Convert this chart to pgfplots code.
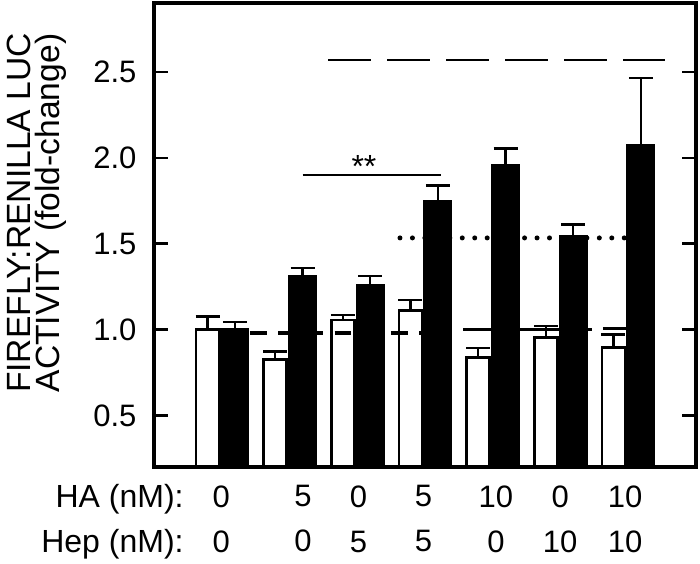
\documentclass[border=0pt]{standalone}
\usepackage{fontspec}
\setmainfont{Liberation Sans}
\usepackage{pgfplots}
\pgfplotsset{compat=1.18}

\begin{document}
\begin{tikzpicture}
\path[use as bounding box] (-77pt,-48pt) rectangle (273pt,233.5pt);
\begin{axis}[
  at={(0,0)}, anchor=south west,
  scale only axis, width=271pt, height=232pt,
  xmin=-0.994, xmax=7.018, ymin=0.2, ymax=2.9,
  axis on top,
  axis line style={line width=1.6pt},
  ytick={0.5,1.0,1.5,2.0,2.5},
  ytick pos=both, yticklabel pos=left,
  tick align=inside, major tick length=7pt,
  tick style={black, line width=1.1pt},
  yticklabel style={font=\fontsize{15.5}{18}\selectfont, inner sep=0pt, xshift=-8.6pt},
  /pgf/number format/fixed, /pgf/number format/fixed zerofill, /pgf/number format/precision=1,
  /pgf/number format/assume math mode=true,
  xtick={0,1.21,2.03,2.99,4.06,5.01,5.97},
  xticklabels={{0\\0},{5\\0},{0\\5},{5\\5},{10\\0},{0\\10},{10\\10}},
  xticklabel style={font=\fontsize{15.5}{22.5}\selectfont, align=center, inner sep=0pt, anchor=north, yshift=-9pt},
  xtick style={draw=none},
]
% dotted reference line (behind bars)
\addplot[line width=2.5pt, line cap=round, dash pattern=on 0pt off 6.23pt] coordinates {(2.642,1.533) (5.958,1.533)};

% white bars
\addplot[ybar, bar shift=0pt, bar width=0.34, fill=white, draw=black, line width=1.3pt,
  error bars/.cd, y dir=plus, y explicit,
  error bar style={line width=1.2pt, black},
  error mark options={rotate=90, black, line width=1.2pt, mark size=6pt}]
  table[x=x, y=y, y error=e] {
x y e
-0.203 1.000 0.076
0.797 0.826 0.046
1.797 1.056 0.029
2.797 1.110 0.063
3.797 0.837 0.054
4.797 0.955 0.064
5.797 0.897 0.074
};

% dashed line near 1.0
\addplot[line width=1.6pt, dash pattern=on 8.3pt off 5.8pt] coordinates {(0.425,0.98) (3.234,0.98)};

% black bars
\addplot[ybar, bar shift=0pt, bar width=0.39, fill=black, draw=black, line width=1.3pt,
  error bars/.cd, y dir=plus, y explicit,
  error bar style={line width=1.2pt, black},
  error mark options={rotate=90, black, line width=1.2pt, mark size=6pt}]
  table[x=x, y=y, y error=e] {
x y e
0.203 1.000 0.045
1.203 1.312 0.047
2.203 1.256 0.056
3.203 1.746 0.091
4.203 1.957 0.097
5.203 1.541 0.069
6.203 2.070 0.393
};

\addplot[line width=1.6pt] coordinates {(3.574,1.0) (5.48,1.0)};
\addplot[line width=1.6pt] coordinates {(5.643,1.004) (6.002,1.004)};
\addplot[line width=1pt] coordinates {(1.204,1.899) (3.244,1.899)};
\addplot[line width=1pt, dash pattern=on 21.3pt off 8.2pt] coordinates {(1.582,2.57) (6.559,2.57)};
\node[anchor=base, font=\fontsize{16}{18}\selectfont, inner sep=0pt] at (axis cs:2.11,1.884) {**};
\end{axis}
\node[anchor=base east, inner sep=0pt, font=\fontsize{16}{18}\selectfont] at (15pt,-20.2pt) {HA (nM):};
\node[anchor=base east, inner sep=0pt, font=\fontsize{16}{18}\selectfont] at (15pt,-42.8pt) {Hep (nM):};
\node[rotate=90, anchor=north, align=center, inner sep=0pt, font=\fontsize{16.8}{14.2}\selectfont] at (-73.6pt,127pt) {FIREFLY:RENILLA LUC\\ACTIVITY (fold-change)};
\end{tikzpicture}
\end{document}
